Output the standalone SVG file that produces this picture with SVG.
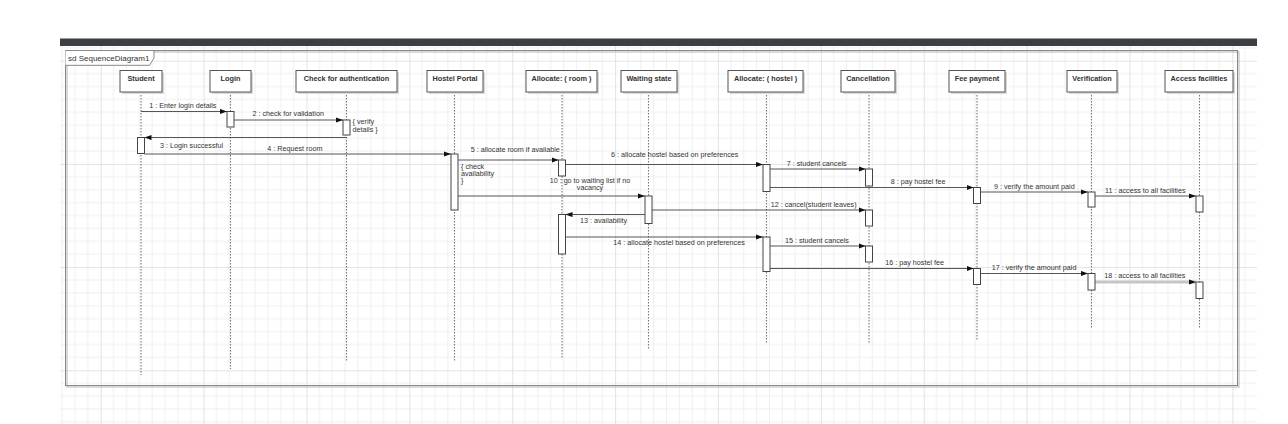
<svg xmlns="http://www.w3.org/2000/svg" width="1288" height="424" viewBox="0 0 1288 424">
<defs>
<pattern id="grid" patternUnits="userSpaceOnUse" x="100.7" y="60.7" width="102.88" height="103.2">
<g stroke="#efefef" stroke-width="1">
<line x1="12.86" y1="0" x2="12.86" y2="103.2"/><line x1="25.72" y1="0" x2="25.72" y2="103.2"/><line x1="38.58" y1="0" x2="38.58" y2="103.2"/><line x1="51.44" y1="0" x2="51.44" y2="103.2"/><line x1="64.3" y1="0" x2="64.3" y2="103.2"/><line x1="77.16" y1="0" x2="77.16" y2="103.2"/><line x1="90.02" y1="0" x2="90.02" y2="103.2"/>
<line x1="0" y1="12.9" x2="102.88" y2="12.9"/><line x1="0" y1="25.8" x2="102.88" y2="25.8"/><line x1="0" y1="38.7" x2="102.88" y2="38.7"/><line x1="0" y1="51.6" x2="102.88" y2="51.6"/><line x1="0" y1="64.5" x2="102.88" y2="64.5"/><line x1="0" y1="77.4" x2="102.88" y2="77.4"/><line x1="0" y1="90.3" x2="102.88" y2="90.3"/>
</g>
<g stroke="#e3e3e3" stroke-width="1"><line x1="0.5" y1="0" x2="0.5" y2="103.2"/><line x1="0" y1="0.5" x2="102.88" y2="0.5"/></g>
</pattern>
<marker id="ah" markerUnits="userSpaceOnUse" markerWidth="8" markerHeight="6" refX="7" refY="2.6" orient="auto"><path d="M0,0 L7,2.6 L0,5.2 z" fill="#111"/></marker>
</defs>
<style>
.head rect.b{fill:#fff;stroke:#555;stroke-width:1}
.head rect.s{fill:#d9d9d9}
.head text{font-family:"Liberation Sans",Arial,sans-serif;font-size:7.3px;font-weight:bold;fill:#333;text-anchor:middle}
.life{stroke:#777;stroke-width:1.1;stroke-dasharray:1.5 1.5;fill:none}
.act{fill:#fff;stroke:#444;stroke-width:1}
.msg{stroke:#555;stroke-width:1;fill:none;marker-end:url(#ah)}
.lbl{font-family:"Liberation Sans",Arial,sans-serif;font-size:7.2px;fill:#333}
</style>
<rect x="0" y="0" width="1288" height="424" fill="#fff"/>
<rect x="60" y="46" width="1197" height="378" fill="url(#grid)"/>
<rect x="60" y="38.5" width="1197" height="7.5" fill="#3b3e42"/>
<g id="frame">
<rect x="67" y="52" width="1172" height="335" fill="none" stroke="#b5b5b5" stroke-width="1"/>
<rect x="65.5" y="50.5" width="1172" height="335" fill="none" stroke="#888" stroke-width="1"/>
<path d="M65.5,50.5 H154 V58 L149.5,65.3 H65.5" fill="#fff" stroke="#888" stroke-width="1"/>
<text x="68" y="61" font-family="Liberation Sans,Arial,sans-serif" font-size="8px" fill="#333">sd  SequenceDiagram1</text>
</g>
<g id="lifelines">
<line class="life" x1="141" y1="92" x2="141" y2="375"/>
<line class="life" x1="230.5" y1="92" x2="230.5" y2="369"/>
<line class="life" x1="346.5" y1="92" x2="346.5" y2="362"/>
<line class="life" x1="454.5" y1="92" x2="454.5" y2="362"/>
<line class="life" x1="562" y1="92" x2="562" y2="358"/>
<line class="life" x1="648.5" y1="92" x2="648.5" y2="349"/>
<line class="life" x1="766.5" y1="92" x2="766.5" y2="344"/>
<line class="life" x1="869" y1="92" x2="869" y2="344"/>
<line class="life" x1="977" y1="92" x2="977" y2="341"/>
<line class="life" x1="1091.5" y1="92" x2="1091.5" y2="328"/>
<line class="life" x1="1199.5" y1="92" x2="1199.5" y2="328"/>
</g>
<g id="n-student" class="head"><rect class="s" x="122" y="72.5" width="42" height="21.5"/><rect class="b" x="120" y="70.5" width="42" height="21.5"/><text x="141" y="80.5">Student</text></g>
<g id="n-login" class="head"><rect class="s" x="212" y="72.5" width="41" height="21.5"/><rect class="b" x="210" y="70.5" width="41" height="21.5"/><text x="230.5" y="80.5">Login</text></g>
<g id="n-check" class="head"><rect class="s" x="298" y="72.5" width="101" height="21.5"/><rect class="b" x="296" y="70.5" width="101" height="21.5"/><text x="346.5" y="80.5">Check for authentication</text></g>
<g id="n-portal" class="head"><rect class="s" x="429" y="72.5" width="56" height="21.5"/><rect class="b" x="427" y="70.5" width="56" height="21.5"/><text x="455" y="80.5">Hostel Portal</text></g>
<g id="n-room" class="head"><rect class="s" x="528" y="72.5" width="71" height="21.5"/><rect class="b" x="526" y="70.5" width="71" height="21.5"/><text x="561.5" y="80.5">Allocate: ( room )</text></g>
<g id="n-waiting" class="head"><rect class="s" x="623" y="72.5" width="56" height="21.5"/><rect class="b" x="621" y="70.5" width="56" height="21.5"/><text x="649" y="80.5">Waiting state</text></g>
<g id="n-hostel" class="head"><rect class="s" x="730" y="72.5" width="75" height="21.5"/><rect class="b" x="728" y="70.5" width="75" height="21.5"/><text x="765.5" y="80.5">Allocate: ( hostel )</text></g>
<g id="n-cancel" class="head"><rect class="s" x="843" y="72.5" width="54" height="21.5"/><rect class="b" x="841" y="70.5" width="54" height="21.5"/><text x="868" y="80.5">Cancellation</text></g>
<g id="n-fee" class="head"><rect class="s" x="951" y="72.5" width="56" height="21.5"/><rect class="b" x="949" y="70.5" width="56" height="21.5"/><text x="977" y="80.5">Fee payment</text></g>
<g id="n-verif" class="head"><rect class="s" x="1069" y="72.5" width="50" height="21.5"/><rect class="b" x="1067" y="70.5" width="50" height="21.5"/><text x="1092" y="80.5">Verification</text></g>
<g id="n-access" class="head"><rect class="s" x="1167" y="72.5" width="68" height="21.5"/><rect class="b" x="1165" y="70.5" width="68" height="21.5"/><text x="1199" y="80.5">Access facilities</text></g>
<g id="connectors">
<line class="msg" x1="141" y1="111.5" x2="227" y2="111.5"/>
<line class="msg" x1="234" y1="120" x2="343" y2="120"/>
<line class="msg" x1="346.5" y1="137.5" x2="144.5" y2="137.5"/>
<line class="msg" x1="144.5" y1="154" x2="451" y2="154"/>
<line class="msg" x1="458" y1="160" x2="558.5" y2="160"/>
<line class="msg" x1="565.5" y1="164.5" x2="763" y2="164.5"/>
<line class="msg" x1="770" y1="169" x2="865.5" y2="169"/>
<line class="msg" x1="770" y1="187.5" x2="973.5" y2="187.5"/>
<line class="msg" x1="980.5" y1="192" x2="1088" y2="192"/>
<line class="msg" x1="458" y1="196" x2="645" y2="196"/>
<line class="msg" x1="1095" y1="196" x2="1196" y2="196"/>
<line class="msg" x1="652" y1="210" x2="865.5" y2="210"/>
<line class="msg" x1="645" y1="214.5" x2="565.5" y2="214.5"/>
<line class="msg" x1="565.5" y1="237" x2="763" y2="237"/>
<line class="msg" x1="770" y1="246" x2="865.5" y2="246"/>
<line class="msg" x1="770" y1="268.5" x2="973.5" y2="268.5"/>
<line class="msg" x1="980.5" y1="273.5" x2="1088" y2="273.5"/>
<line class="msg" x1="1095" y1="282" x2="1196" y2="282" style="stroke:#c6c6c6;stroke-width:3"/>
</g>
<g id="activations">
<rect class="act" x="137.5" y="137.5" width="7" height="16"/>
<rect class="act" x="227" y="111.5" width="7" height="15.5"/>
<rect class="act" x="343" y="120" width="7" height="15"/>
<rect class="act" x="451" y="154" width="7" height="56"/>
<rect class="act" x="558.5" y="160" width="7" height="16"/>
<rect class="act" x="763" y="164.5" width="7" height="27"/>
<rect class="act" x="865.5" y="169" width="7" height="17"/>
<rect class="act" x="973.5" y="187.5" width="7" height="16"/>
<rect class="act" x="1088" y="192" width="7" height="15"/>
<rect class="act" x="1196" y="196" width="7" height="16"/>
<rect class="act" x="645" y="196" width="7" height="27.5"/>
<rect class="act" x="865.5" y="210" width="7" height="16"/>
<rect class="act" x="558.5" y="214.5" width="7" height="39.5"/>
<rect class="act" x="763" y="237" width="7" height="34.5"/>
<rect class="act" x="865.5" y="246" width="7" height="16"/>
<rect class="act" x="973.5" y="268.5" width="7" height="16"/>
<rect class="act" x="1088" y="273.5" width="7" height="16.5"/>
<rect class="act" x="1196" y="282" width="7" height="16.5"/>
</g>
<g id="labels" class="lbl">
<text class="lbl" x="149.3" y="108">1 : Enter login details</text>
<text class="lbl" x="252.4" y="115.5">2 : check for validation</text>
<text class="lbl" x="352.5" y="124">{ verify</text>
<text class="lbl" x="352.5" y="131.5">details }</text>
<text class="lbl" x="160" y="147.5">3 : Login successful</text>
<text class="lbl" x="267.3" y="151">4 : Request room</text>
<text class="lbl" x="470.7" y="151.5">5 : allocate room if available</text>
<text class="lbl" x="461" y="169">{ check</text>
<text class="lbl" x="461" y="176">availability</text>
<text class="lbl" x="461" y="183">}</text>
<text class="lbl" x="611" y="156.5">6 : allocate hostel based on preferences</text>
<text class="lbl" x="786.7" y="166">7 : student cancels</text>
<text class="lbl" x="890.7" y="184">8 : pay hostel fee</text>
<text class="lbl" x="994" y="188.5">9 : verify the amount paid</text>
<text class="lbl" x="590" y="183" text-anchor="middle">10 : go to waiting list if no</text>
<text class="lbl" x="590" y="189.7" text-anchor="middle">vacancy</text>
<text class="lbl" x="1105" y="193">11 : access to all facilities</text>
<text class="lbl" x="770.7" y="206.5">12 : cancel(student leaves)</text>
<text class="lbl" x="580" y="222.5">13 : availability</text>
<text class="lbl" x="613.3" y="245">14 : allocate hostel based on preferences</text>
<text class="lbl" x="785" y="242.5">15 : student cancels</text>
<text class="lbl" x="885.3" y="265">16 : pay hostel fee</text>
<text class="lbl" x="991.7" y="270">17 : verify the amount paid</text>
<text class="lbl" x="1104.3" y="277.5">18 : access to all facilities</text>
</g>
</svg>
